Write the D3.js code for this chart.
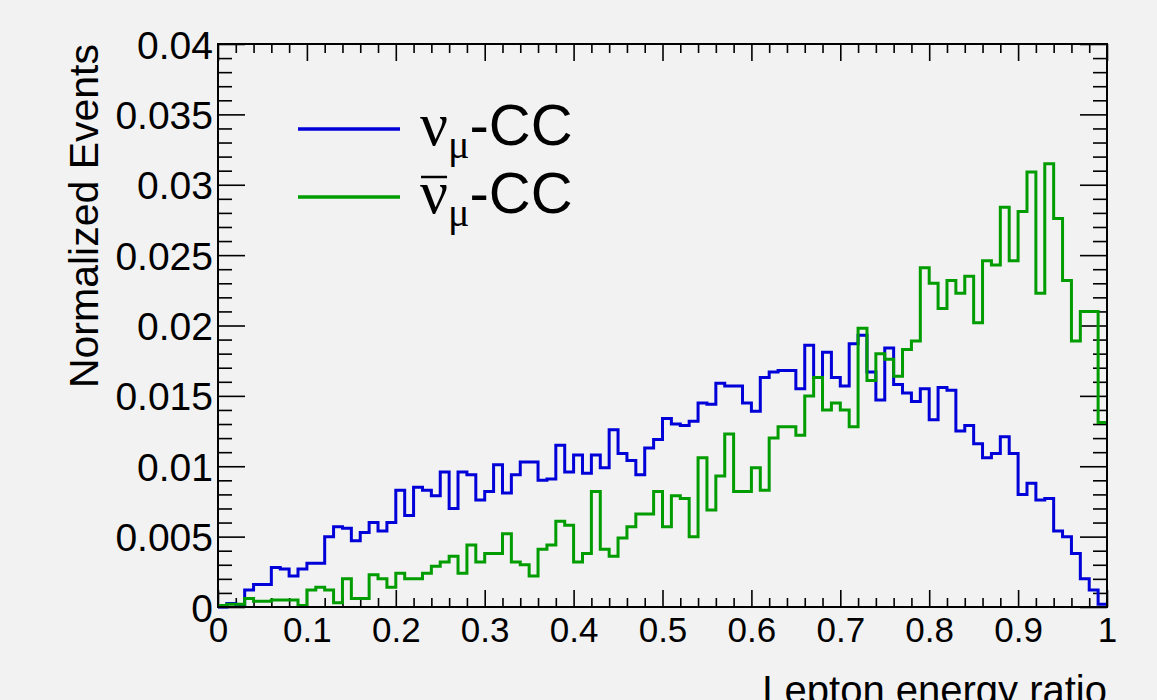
<!DOCTYPE html>
<html>
<head>
<meta charset="utf-8">
<script src="https://cdn.jsdelivr.net/npm/d3@7"></script>
<style>
  html, body { margin: 0; padding: 0; background: #f2f2f2; }
  svg { display: block; }
  text { font-family: "Liberation Sans", Arial, Helvetica, sans-serif; fill: #000; }
</style>
</head>
<body>
<svg id="chart" width="1157" height="700"></svg>
<script>
// ---- data (100 bins from 0 to 1) ----
const binEdgesLow = 0, binEdgesHigh = 1, nBins = 100;
const numuCC = [
  0.0000, 0.00025, 0.0001, 0.0012, 0.0016, 0.0016, 0.0028, 0.0027, 0.0022, 0.0027,
  0.0031, 0.0031, 0.0050, 0.0057, 0.0056, 0.0047, 0.0053, 0.0060, 0.0054, 0.0060,
  0.0083, 0.0065, 0.0085, 0.0083, 0.0079, 0.0096, 0.0070, 0.0096, 0.0094, 0.0076,
  0.0082, 0.0101, 0.0081, 0.0094, 0.0103, 0.0103, 0.0090, 0.0091, 0.0115, 0.0096,
  0.0108, 0.0095, 0.0108, 0.0099, 0.0126, 0.0109, 0.0104, 0.0094, 0.0113, 0.0119,
  0.0134, 0.0130, 0.0129, 0.0132, 0.0145, 0.0144, 0.0159, 0.0157, 0.0157, 0.0145,
  0.0139, 0.0163, 0.0167, 0.0168, 0.0168, 0.0155, 0.0186, 0.0163, 0.0181, 0.0163,
  0.0157, 0.0187, 0.0193, 0.0167, 0.0147, 0.0184, 0.0158, 0.0152, 0.0146, 0.0155,
  0.0133, 0.0156, 0.0154, 0.0125, 0.0129, 0.0116, 0.0106, 0.0109, 0.0121, 0.0109,
  0.0080, 0.0088, 0.0076, 0.0077, 0.0054, 0.0050, 0.0038, 0.0020, 0.0012, 0.0002
];
const numubarCC = [
  0.0001, 0.0002, 0.0002, 0.0006, 0.0004, 0.0004, 0.0005, 0.0005, 0.0005, 0.0001,
  0.0012, 0.0014, 0.0012, 0.0003, 0.0020, 0.0006, 0.0006, 0.0023, 0.0020, 0.0014,
  0.0024, 0.0020, 0.0020, 0.0024, 0.0029, 0.0032, 0.0036, 0.0024, 0.0044, 0.0032,
  0.0038, 0.0038, 0.0052, 0.0032, 0.0030, 0.0022, 0.0041, 0.0044, 0.0061, 0.0058,
  0.0032, 0.0038, 0.0082, 0.0041, 0.0036, 0.0049, 0.0057, 0.0066, 0.0066, 0.0082,
  0.0057, 0.0079, 0.0077, 0.0050, 0.0106, 0.0069, 0.0093, 0.0123, 0.0082, 0.0082,
  0.0099, 0.0083, 0.0120, 0.0128, 0.0128, 0.0122, 0.0150, 0.0163, 0.0140, 0.0145,
  0.0140, 0.0128, 0.0198, 0.0161, 0.0180, 0.0176, 0.0164, 0.0183, 0.0189, 0.0241,
  0.0230, 0.0212, 0.0232, 0.0223, 0.0235, 0.0202, 0.0246, 0.0243, 0.0284, 0.0246,
  0.0281, 0.0309, 0.0223, 0.0315, 0.0276, 0.0232, 0.0189, 0.0210, 0.0210, 0.0131
];
const xMajorTicks = [0, 0.1, 0.2, 0.3, 0.4, 0.5, 0.6, 0.7, 0.8, 0.9, 1];
const xTickLabels = ["0", "0.1", "0.2", "0.3", "0.4", "0.5", "0.6", "0.7", "0.8", "0.9", "1"];
const yMajorTicks = [0, 0.005, 0.01, 0.015, 0.02, 0.025, 0.03, 0.035, 0.04];
const yTickLabels = ["0", "0.005", "0.01", "0.015", "0.02", "0.025", "0.03", "0.035", "0.04"];
const seriesNames = ["numu", "numubar"];
const seriesColors = ["#0000d8", "#009c00"];

// ---- layout ----
const L = 218, R = 1107, T = 44, B = 607;
const svg = d3.select("#chart");
const x = d3.scaleLinear().domain([binEdgesLow, binEdgesHigh]).range([L, R]);
const y = d3.scaleLinear().domain([0, 0.04]).range([B, T]);

const xMinor = d3.range(0, 1.0001, 0.02).map(v => +v.toFixed(2)).filter(v => Math.abs(v * 10 - Math.round(v * 10)) > 1e-6);
const yMinor = d3.range(0, 0.04001, 0.001).map(v => +v.toFixed(3)).filter(v => Math.abs(v * 200 - Math.round(v * 200)) > 1e-6);

function styleAxis(g) {
  g.select(".domain").remove();
  g.selectAll(".tick line").attr("stroke", "#000").attr("stroke-width", 1.6);
}

// bottom
svg.append("g").attr("transform", `translate(0,${B})`)
  .call(d3.axisBottom(x).tickValues(xMajorTicks).tickSize(-17).tickPadding(10)
        .tickFormat((d, i) => xTickLabels[i]))
  .call(styleAxis)
  .call(g => g.selectAll("text").attr("font-size", 35).attr("font-family", "Liberation Sans, Arial, sans-serif").attr("fill", "#000"));
svg.append("g").attr("transform", `translate(0,${B})`)
  .call(d3.axisBottom(x).tickValues(xMinor).tickSize(-9).tickFormat(""))
  .call(styleAxis);
// top
svg.append("g").attr("transform", `translate(0,${T})`)
  .call(d3.axisTop(x).tickValues(xMajorTicks).tickSize(-17).tickFormat(""))
  .call(styleAxis);
svg.append("g").attr("transform", `translate(0,${T})`)
  .call(d3.axisTop(x).tickValues(xMinor).tickSize(-9).tickFormat(""))
  .call(styleAxis);
// left
svg.append("g").attr("transform", `translate(${L},0)`)
  .call(d3.axisLeft(y).tickValues(yMajorTicks).tickSize(-27).tickPadding(5)
        .tickFormat((d, i) => yTickLabels[i]))
  .call(styleAxis)
  .call(g => g.selectAll("text").attr("font-size", 39).attr("font-family", "Liberation Sans, Arial, sans-serif").attr("fill", "#000").attr("dy", "0.36em"));
svg.append("g").attr("transform", `translate(${L},0)`)
  .call(d3.axisLeft(y).tickValues(yMinor).tickSize(-14).tickFormat(""))
  .call(styleAxis);
// right
svg.append("g").attr("transform", `translate(${R},0)`)
  .call(d3.axisRight(y).tickValues(yMajorTicks).tickSize(-27).tickFormat(""))
  .call(styleAxis);
svg.append("g").attr("transform", `translate(${R},0)`)
  .call(d3.axisRight(y).tickValues(yMinor).tickSize(-14).tickFormat(""))
  .call(styleAxis);

// histograms
const binW = (binEdgesHigh - binEdgesLow) / nBins;
const stepLine = d3.line().x(d => x(d[0])).y(d => y(d[1])).curve(d3.curveStepAfter);
[numuCC, numubarCC].forEach((vals, k) => {
  const pts = vals.map((v, i) => [binEdgesLow + i * binW, v]);
  pts.push([binEdgesHigh, vals[vals.length - 1]]);
  svg.append("path").datum(pts)
    .attr("class", seriesNames[k])
    .attr("d", stepLine)
    .attr("fill", "none")
    .attr("stroke", seriesColors[k])
    .attr("stroke-width", 3);
});

// frame
svg.append("rect").attr("x", L).attr("y", T).attr("width", R - L).attr("height", B - T)
  .attr("fill", "none").attr("stroke", "#000").attr("stroke-width", 2);

// axis titles
svg.append("text").attr("transform", `translate(98,${T}) rotate(-90)`)
  .attr("text-anchor", "end").attr("font-size", 41).text("Normalized Events");
svg.append("text").attr("x", R).attr("y", 704).attr("text-anchor", "end")
  .attr("font-size", 40).text("Lepton energy ratio");

// legend
const legendY = [129, 197];
const legendBase = [145, 213];
const legendLabels = [["ν", "μ", "-CC"], ["ν", "μ", "-CC"]];
const legendBar = [false, true];
legendLabels.forEach((lab, k) => {
  svg.append("line").attr("x1", 298).attr("x2", 400).attr("y1", legendY[k]).attr("y2", legendY[k])
    .attr("stroke", seriesColors[k]).attr("stroke-width", 3.5);
  const t = svg.append("text").attr("x", 420).attr("y", legendBase[k]).attr("font-size", 58);
  t.append("tspan").attr("font-family", "Liberation Serif, Times New Roman, serif").attr("font-size", 62).text(lab[0]);
  t.append("tspan").attr("font-family", "Liberation Serif, Times New Roman, serif").attr("font-size", 40).attr("dy", 13).text(lab[1]);
  t.append("tspan").attr("dy", -13).text(lab[2]);
  if (legendBar[k]) {
    const ext = t.node().getExtentOfChar(0);
    svg.append("line")
      .attr("x1", ext.x + 1).attr("x2", ext.x + ext.width - 1)
      .attr("y1", legendBase[k] - 36).attr("y2", legendBase[k] - 36)
      .attr("stroke", "#000").attr("stroke-width", 2.5);
  }
});
</script>
</body>
</html>
